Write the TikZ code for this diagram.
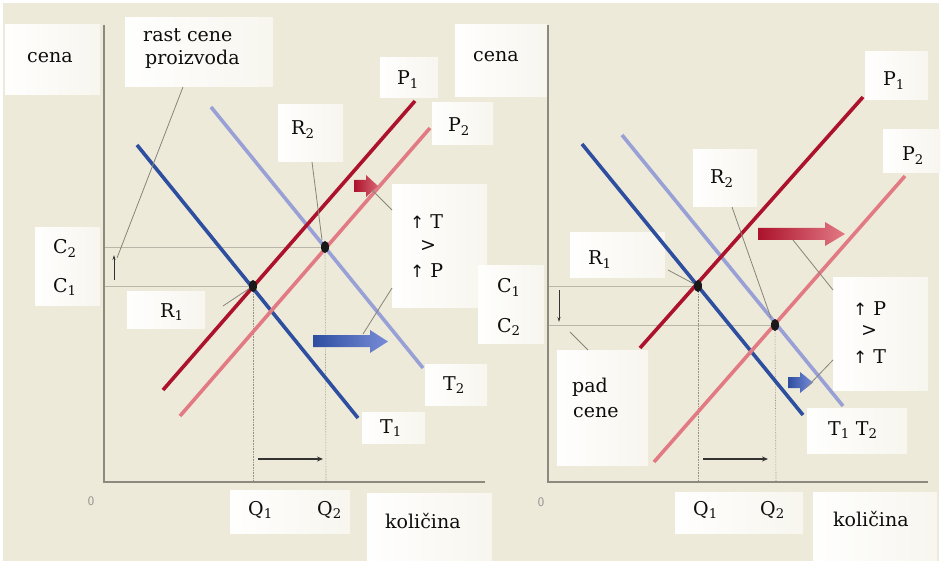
\documentclass[tikz,border=0pt]{standalone}
\usepackage{fontspec}
\setmainfont{DejaVu Serif}
\newfontfamily\symf{DejaVu Sans}
\usetikzlibrary{arrows.meta,shapes.geometric}
\definecolor{bg}{RGB}{238,234,218}
\definecolor{axisc}{RGB}{140,137,127}
\definecolor{gridc}{RGB}{185,181,168}
\definecolor{dblue}{RGB}{46,78,160}
\definecolor{mblue}{RGB}{120,140,215}
\definecolor{lblue}{RGB}{152,160,214}
\definecolor{dred}{RGB}{172,18,44}
\definecolor{lred}{RGB}{226,122,132}
\definecolor{leadc}{RGB}{135,133,122}
\begin{document}
\begin{tikzpicture}[x=1pt,y=-1pt,
  box/.style={anchor=north west, left color=white!97!bg, right color=white!55!bg, inner sep=0pt, outer sep=0pt},
  txt/.style={anchor=base west, inner sep=0pt, font=\fontsize{19}{23}\selectfont, text=black!95},
  zero/.style={inner sep=0pt, font=\sffamily\fontsize{13}{13}\selectfont, text=black!45},
  axis/.style={draw=axisc, line width=1.8pt},
  gridl/.style={draw=gridc, line width=0.9pt},
  qline/.style={draw=gridc!80!black, line width=0.6pt, densely dotted},
  curve/.style={line width=3.6pt},
  leader/.style={draw=leadc, line width=0.8pt},
  qarrow/.style={draw=black!80, line width=1.5pt, -{Stealth[length=6pt,width=5pt]}},
  smallarrow/.style={draw=black!80, line width=0.8pt, -{Stealth[length=5pt,width=3pt]}},
  pt/.style={fill=black!90, ellipse, inner sep=0pt, minimum width=8pt, minimum height=12pt}
]
\useasboundingbox (0,0) rectangle (942,561);
\fill[white] (0,0) rectangle (942,561);
\fill[bg] (3,3) rectangle (939,561);

% ---------------- boxes ----------------
\node[box, minimum width=95, minimum height=70] (bCenaL) at (5,25) {};
\node[box, minimum width=148, minimum height=69] (bRast) at (125,18) {};
\node[box, minimum width=65, minimum height=57] (bR2L) at (278,105) {};
\node[box, minimum width=58, minimum height=40] (bP1L) at (380,58) {};
\node[box, minimum width=61, minimum height=42] (bP2L) at (432,103) {};
\node[box, minimum width=92, minimum height=72] (bCenaR) at (455,25) {};
\node[box, minimum width=95, minimum height=122] (bTgtP) at (392,185) {};
\node[box, minimum width=65, minimum height=77] (bCL) at (35,228) {};
\node[box, minimum width=78, minimum height=36] (bR1L) at (127,292) {};
\node[box, minimum width=66, minimum height=77] (bCR) at (478,266) {};
\node[box, minimum width=62, minimum height=41] (bT2L) at (425,364) {};
\node[box, minimum width=63, minimum height=31] (bT1L) at (362,412) {};
\node[box, minimum width=120, minimum height=43] (bQL) at (230,490) {};
\node[box, minimum width=125, minimum height=68] (bKolL) at (367,493) {};
\node[box, minimum width=64, minimum height=57] (bR2R) at (693,150) {};
\node[box, minimum width=63, minimum height=48] (bP1R) at (865,52) {};
\node[box, minimum width=57, minimum height=43] (bP2R) at (883,130) {};
\node[box, minimum width=95, minimum height=45] (bR1R) at (570,233) {};
\node[box, minimum width=95, minimum height=112] (bPgtT) at (833,278) {};
\node[box, minimum width=91, minimum height=115] (bPad) at (557,350) {};
\node[box, minimum width=100, minimum height=45] (bT12) at (807,408) {};
\node[box, minimum width=128, minimum height=41] (bQR) at (675,492) {};
\node[box, minimum width=124, minimum height=69] (bKolR) at (813,492) {};

% ---------------- left panel ----------------
\coordinate (oL) at (104,482);
\coordinate (yTopL) at (104,25);
\coordinate (xEndL) at (485,482);
\coordinate (R1L) at (253,286);
\coordinate (R2L) at (325,247);
\draw[gridl] (104,247) -- (R2L);
\draw[gridl] (104,286) -- (R1L);
\draw[qline] (R1L) -- (253,482);
\draw[qline] (R2L) -- (326,482);
\draw[axis] (yTopL) -- (oL) -- (xEndL);

\coordinate (T1Ls) at (137,145); \coordinate (T1Le) at (358,418);
\coordinate (T2Ls) at (211,107); \coordinate (T2Le) at (423,368);
\coordinate (P1Ls) at (163,390); \coordinate (P1Le) at (415,101);
\coordinate (P2Ls) at (180,416); \coordinate (P2Le) at (430,128);
\draw[curve, draw=lblue] (T2Ls) -- (T2Le);
\draw[curve, draw=dblue] (T1Ls) -- (T1Le);
\draw[curve, draw=lred] (P2Ls) -- (P2Le);
\draw[curve, draw=dred] (P1Ls) -- (P1Le);
\node[pt] (ptR1L) at (R1L) {};
\node[pt] (ptR2L) at (R2L) {};

% fat arrows left
\shade[left color=dred, right color=lred!80!dred] (354,180) -- (366,180) -- (366,175) -- (378,186) -- (366,197) -- (366,192) -- (354,192) -- cycle;
\shade[left color=dblue, right color=mblue] (313,335) -- (370,335) -- (370,330) -- (388,341.5) -- (370,353) -- (370,347) -- (313,347) -- cycle;
\coordinate (redArrL) at (372,190);
\coordinate (blueArrL) at (363,334);

% leaders left
\coordinate (upArrTop) at (114,255);
\coordinate (upArrBot) at (114,280);
\coordinate (rastEnd) at (117,258);
\draw[leader] ([xshift=58pt]bRast.south west) -- (rastEnd);
\draw[leader] ([xshift=34pt]bR2L.south west) -- (322,240);
\draw[leader] (223,306) -- (ptR1L);
\draw[leader] (redArrL) -- (bTgtP.west |- 0,210);
\draw[leader] (blueArrL) -- (bTgtP.west |- 0,288);
\draw[smallarrow] (upArrBot) -- (upArrTop);
\draw[qarrow] (258,459) -- (323,459);

% ---------------- right panel ----------------
\coordinate (oR) at (548,482);
\coordinate (yTopR) at (548,25);
\coordinate (xEndR) at (928,482);
\coordinate (R1R) at (698,286);
\coordinate (R2R) at (775,325);
\draw[gridl] (548,286) -- (R1R);
\draw[gridl] (548,325) -- (R2R);
\draw[qline] (R1R) -- (698,482);
\draw[qline] (R2R) -- (776,482);
\draw[axis] (yTopR) -- (oR) -- (xEndR);

\coordinate (T1Rs) at (582,144); \coordinate (T1Re) at (803,415);
\coordinate (T2Rs) at (622,135); \coordinate (T2Re) at (843,406);
\coordinate (P1Rs) at (640,348); \coordinate (P1Re) at (863,97);
\coordinate (P2Rs) at (654,462); \coordinate (P2Re) at (905,176);
\draw[curve, draw=lblue] (T2Rs) -- (T2Re);
\draw[curve, draw=dblue] (T1Rs) -- (T1Re);
\draw[curve, draw=lred] (P2Rs) -- (P2Re);
\draw[curve, draw=dred] (P1Rs) -- (P1Re);
\node[pt] (ptR1R) at (R1R) {};
\node[pt] (ptR2R) at (R2R) {};

\shade[left color=dred, right color=lred] (758,228) -- (825,228) -- (825,222) -- (845,234) -- (825,246) -- (825,240) -- (758,240) -- cycle;
\shade[left color=dblue, right color=mblue] (788,377) -- (800,377) -- (800,372) -- (813,382.5) -- (800,393) -- (800,388) -- (788,388) -- cycle;
\coordinate (redArrR) at (793,240);
\coordinate (blueArrR) at (807,387);

\draw[leader] (668,270) -- (ptR1R);
\draw[leader] ([xshift=39pt]bR2R.south west) -- (771,318);
\draw[leader] (redArrR) -- (bPgtT.west |- 0,290);
\draw[leader] (blueArrR) -- (bPgtT.west |- 0,360);
\draw[leader] (570,332) -- ([xshift=31pt]bPad.north west);
\draw[smallarrow] (559,290) -- (559,322);
\draw[qarrow] (703,459) -- (768,459);

% ---------------- texts ----------------
\node[txt] (tCenaL) at (27,63) {cena};
\node[txt] (tRast1) at (143,42) {rast cene};
\node[txt] (tRast2) at (145,65) {proizvoda};
\node[txt] (tR2L) at (291,135) {R\textsubscript{2}};
\node[txt] (tP1L) at (397,85) {P\textsubscript{1}};
\node[txt] (tP2L) at (448,132) {P\textsubscript{2}};
\node[txt] (tCenaR) at (473,62) {cena};
\node[txt] (tUpT) at (410,229) {{\symf\fontsize{17}{17}\selectfont ↑} T};
\node[txt, anchor=center] (tGtL) at (428,246) {>};
\node[txt] (tUpP) at (410,277) {{\symf\fontsize{17}{17}\selectfont ↑} P};
\node[txt] (tC1R) at (497,293) {C\textsubscript{1}};
\node[txt] (tC2R) at (497,332) {C\textsubscript{2}};
\node[txt] (tT2L) at (443,390) {T\textsubscript{2}};
\node[txt] (tC2L) at (53,254) {C\textsubscript{2}};
\node[txt] (tC1L) at (53,292) {C\textsubscript{1}};
\node[txt] (tR1L) at (160,317) {R\textsubscript{1}};
\node[txt] (tT1L) at (380,433) {T\textsubscript{1}};
\node[txt] (tQ1L) at (248,515) {Q\textsubscript{1}};
\node[txt] (tQ2L) at (317,515) {Q\textsubscript{2}};
\node[txt] (tKolL) at (385,528) {količina};
\node[zero] (t0L) at (91,501) {0};

\node[txt] (tP1R) at (883,86) {P\textsubscript{1}};
\node[txt] (tP2R) at (902,161) {P\textsubscript{2}};
\node[txt] (tR2R) at (710,184) {R\textsubscript{2}};
\node[txt] (tR1R) at (588,265) {R\textsubscript{1}};
\node[txt] (tUpP2) at (853,315) {{\symf\fontsize{17}{17}\selectfont ↑} P};
\node[txt, anchor=center] (tGtR) at (869,331) {>};
\node[txt] (tUpT2) at (853,363) {{\symf\fontsize{17}{17}\selectfont ↑} T};
\node[txt] (tPad) at (572,392) {pad};
\node[txt] (tCene) at (573,417) {cene};
\node[txt] (tT12) at (828,435) {T\textsubscript{1} T\textsubscript{2}};
\node[txt] (tQ1R) at (693,515) {Q\textsubscript{1}};
\node[txt] (tQ2R) at (760,515) {Q\textsubscript{2}};
\node[txt] (tKolR) at (833,526) {količina};
\node[zero] (t0R) at (541,502) {0};
\end{tikzpicture}
\end{document}
